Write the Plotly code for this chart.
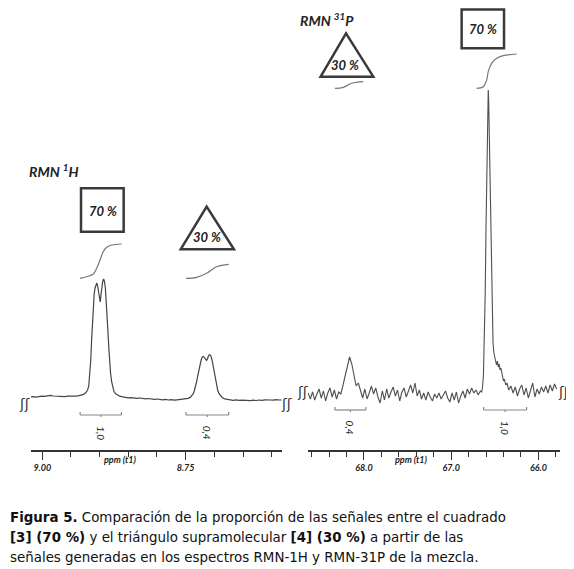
import plotly.graph_objects as go

# ---------- RMN 1H (ppm, intensidad relativa a la linea base) ----------
h1_ppm = [9.021, 9.016, 9.011, 9.006, 9.001, 8.996, 8.991, 8.986, 8.981, 8.976,
          8.971, 8.966, 8.961, 8.956, 8.951, 8.946, 8.941, 8.936, 8.932, 8.928,
          8.924, 8.921, 8.919, 8.917, 8.9155, 8.914, 8.9125, 8.911, 8.9095, 8.908,
          8.9065, 8.905, 8.9035, 8.902, 8.9005, 8.899, 8.8975, 8.896, 8.8945, 8.893,
          8.8915, 8.890, 8.8885, 8.887, 8.8855, 8.884, 8.8825, 8.881, 8.879, 8.877,
          8.875, 8.872, 8.869, 8.865, 8.860, 8.855, 8.850, 8.845, 8.840, 8.835,
          8.830, 8.825, 8.820, 8.815, 8.810, 8.805, 8.800, 8.795, 8.790, 8.785,
          8.780, 8.775, 8.770, 8.765, 8.760, 8.755, 8.750, 8.746, 8.742, 8.739,
          8.737, 8.735, 8.733, 8.731, 8.729, 8.727, 8.725, 8.723, 8.721, 8.719,
          8.717, 8.715, 8.7135, 8.712, 8.710, 8.708, 8.706, 8.704, 8.702, 8.700,
          8.698, 8.696, 8.694, 8.692, 8.689, 8.686, 8.682, 8.677, 8.672, 8.667,
          8.662, 8.657, 8.652, 8.647, 8.642, 8.637, 8.632, 8.627, 8.622, 8.617,
          8.612, 8.607, 8.602, 8.597, 8.592, 8.587, 8.583]
h1_int = [3.0, 3.4, 2.9, 3.5, 3.8, 3.6, 4.3, 4.6, 4.0, 3.7,
          3.2, 3.6, 3.3, 3.8, 3.6, 4.1, 3.9, 4.4, 4.8, 5.6,
          7.5, 10, 14, 25, 40, 60, 80, 97, 106, 112,
          116, 117, 114, 108, 100, 98, 106, 114, 119, 121,
          118, 112, 100, 84, 68, 52, 38, 27, 18, 12,
          8.5, 6.2, 4.8, 3.8, 3.1, 2.6, 2.2, 2.4, 1.9, 1.7,
          2.0, 1.4, 1.2, 1.5, 0.9, 0.6, 1.0, 0.4, 0.2, 0.6,
          0.0, 0.3, -0.2, 0.2, 0.5, 0.4, 1.0, 1.6, 2.6, 4.2,
          6, 9, 13, 18, 24, 30, 35, 40, 43, 43.5,
          42, 40, 39.5, 41, 44.5, 45.5, 44, 40, 34, 27,
          20, 14, 9.5, 6.5, 4, 2.3, 1.2, 0.5, 0.2, -0.3,
          0.1, -0.4, -0.1, -0.5, -0.2, -0.6, -0.2, -0.5, 0.0, -0.4,
          0.1, -0.3, 0.0, -0.2, 0.3, 0.0, 0.2]

# curvas de integracion 1H
h1_integ_a_ppm = [8.9343, 8.9226, 8.9111, 8.9052, 8.8994, 8.8937, 8.8877, 8.8790, 8.8616]
h1_integ_a_val = [121.7, 123.3, 126.0, 131.7, 140.0, 148.3, 152.7, 155.0, 156.0]
h1_integ_b_ppm = [8.7495, 8.7308, 8.7134, 8.6960, 8.6750]
h1_integ_b_val = [121.7, 122.7, 126.7, 133.3, 135.7]

# regiones integradas 1H
h1_reg = [(8.934, 8.862), (8.7495, 8.675)]
h1_reg_txt = ["1,0", "0,4"]

# ---------- RMN 31P ----------
p31_ppm = [68.640, 68.615, 68.590, 68.565, 68.540, 68.515, 68.490, 68.465, 68.440, 68.415,
           68.390, 68.365, 68.340, 68.315, 68.290, 68.265, 68.240, 68.215, 68.190, 68.165,
           68.140, 68.115, 68.090, 68.065, 68.040, 68.015, 67.990, 67.965, 67.940, 67.915,
           67.890, 67.865, 67.840, 67.815, 67.790, 67.765, 67.740, 67.715, 67.690, 67.665,
           67.640, 67.615, 67.590, 67.565, 67.540, 67.515, 67.490, 67.465, 67.440, 67.415,
           67.390, 67.365, 67.340, 67.315, 67.290, 67.265, 67.240, 67.215, 67.190, 67.165,
           67.140, 67.115, 67.090, 67.065, 67.040, 67.015, 66.990, 66.965, 66.940, 66.915,
           66.890, 66.865, 66.840, 66.815, 66.790, 66.765, 66.740, 66.715, 66.690, 66.665,
           66.650, 66.640, 66.630, 66.620, 66.610, 66.600, 66.590, 66.580, 66.575, 66.570,
           66.560, 66.550, 66.540, 66.530, 66.520, 66.510, 66.500, 66.490, 66.480, 66.470,
           66.460, 66.450, 66.440, 66.430, 66.420, 66.410, 66.400, 66.390, 66.375, 66.360,
           66.340, 66.315, 66.290, 66.265, 66.240, 66.215, 66.190, 66.165, 66.140, 66.115,
           66.090, 66.065, 66.040, 66.015, 65.990, 65.965, 65.940, 65.915, 65.890, 65.865,
           65.840, 65.815, 65.790]
p31_int = [2, -4, 3, -5, 1, 6, -3, 4, -6, 2,
           7, -2, 5, -4, 3, 1, 10, 20, 31, 38,
           31, 20, 9, 12, 5, -3, 6, -4, 2, 9,
           1, 7, -2, -8, 4, -5, 6, -3, 3, 8,
           -1, 5, -6, 3, 7, -2, 4, 10, 2, 12,
           -1, 5, -4, 2, -5, 3, -2, -6, 1, -3,
           2, -4, 0, 4, -3, -7, 2, -5, 3, -8,
           -1, 4, -3, 6, 1, 7, 2, 5, 0, 4,
           3, 8, 20, 50, 100, 170, 240, 290, 305, 295,
           245, 185, 120, 75, 52, 42, 37, 33, 30, 34,
           28, 31, 25, 27, 21, 18, 14, 16, 10, 12,
           5, 9, 2, 8, -1, 6, 10, 0, 7, -3,
           5, 12, -2, 6, 1, 8, 3, 9, 2, 10,
           4, 11, 6]

p31_integ_a_ppm = [68.333, 68.237, 68.141, 68.008]
p31_integ_a_val = [306.7, 307.7, 311.7, 313.3]
p31_integ_b_ppm = [66.708, 66.632, 66.593, 66.575, 66.536, 66.478, 66.403, 66.249]
p31_integ_b_val = [306.7, 308.3, 315.0, 323.3, 331.7, 336.7, 339.3, 341.0]

p31_reg = [(68.333, 67.978), (66.628, 66.135)]
p31_reg_txt = ["0,4", "1,0"]

FONT = "Lato"
GRIS = "#444444"
W, H = 574, 569
OFF = 8  # margen del body de la pagina

fig = go.Figure()

fig.add_trace(go.Scatter(x=h1_ppm, y=h1_int, mode="lines", line=dict(color=GRIS, width=1.2),
                         xaxis="x", yaxis="y", hoverinfo="skip"))
fig.add_trace(go.Scatter(x=p31_ppm, y=p31_int, mode="lines", line=dict(color="#505050", width=1.1),
                         xaxis="x2", yaxis="y2", hoverinfo="skip"))

for xs, ys, xa, ya in [(h1_integ_a_ppm, h1_integ_a_val, "x", "y"),
                       (h1_integ_b_ppm, h1_integ_b_val, "x", "y"),
                       (p31_integ_a_ppm, p31_integ_a_val, "x2", "y2"),
                       (p31_integ_b_ppm, p31_integ_b_val, "x2", "y2")]:
    fig.add_trace(go.Scatter(x=xs, y=ys, mode="lines", line=dict(color="#777777", width=1.2, shape="spline"),
                             xaxis=xa, yaxis=ya, hoverinfo="skip"))

shapes = []
annots = []

# corchetes de integracion y sus valores (texto girado)
for regs, txts, xr, yr in [(h1_reg, h1_reg_txt, "x", "y"), (p31_reg, p31_reg_txt, "x2", "y2")]:
    for (a, b), t in zip(regs, txts):
        c = (a + b) / 2
        ln = dict(color="#888888", width=1.2)
        shapes.append(dict(type="line", xref=xr, yref=yr, x0=a, x1=b, y0=-15, y1=-15, line=ln))
        shapes.append(dict(type="line", xref=xr, yref=yr, x0=a, x1=a, y0=-15, y1=-12, line=ln))
        shapes.append(dict(type="line", xref=xr, yref=yr, x0=b, x1=b, y0=-15, y1=-12, line=ln))
        shapes.append(dict(type="line", xref=xr, yref=yr, x0=c, x1=c, y0=-15, y1=-17, line=ln))
        annots.append(dict(xref=xr, yref=yr, x=c, y=-33, text=t, showarrow=False, textangle=90,
                           font=dict(family=FONT, size=10, color="#222", style="italic")))

# cuadrado y triangulo
borde = dict(color="#3a3a3a", width=2.5)
shapes.append(dict(type="rect", xref="x", yref="y", x0=8.9325, x1=8.8581, y0=168.3, y1=211.7, line=borde))
shapes.append(dict(type="path", xref="x", yref="y", path="M 8.7587,150.7 L 8.7134,193.3 L 8.6658,150.7 Z", line=borde))
shapes.append(dict(type="rect", xref="x2", yref="y2", x0=66.880, x1=66.394, y0=346.7, y1=385.5, line=borde))
shapes.append(dict(type="path", xref="x2", yref="y2", path="M 68.497,318.3 L 68.206,361.7 L 67.893,318.3 Z", line=borde))

fb = dict(family=FONT, size=13, color="#222", weight="bold", style="italic")
ftit = dict(family=FONT, size=14, color="#222", weight="bold", style="italic")
annots += [
    dict(xref="x", yref="y", x=8.8937, y=189.3, text="70 %", showarrow=False, font=fb),
    dict(xref="x", yref="y", x=8.7134, y=162.7, text="30 %", showarrow=False, font=fb),
    dict(xref="x2", yref="y2", x=66.637, y=366, text="70 %", showarrow=False, font=fb),
    dict(xref="x2", yref="y2", x=68.218, y=330, text="30 %", showarrow=False, font=fb),
    dict(xref="x", yref="y", x=8.9796, y=230, text="RMN <sup>1</sup>H", showarrow=False, font=ftit),
    dict(xref="x2", yref="y2", x=68.424, y=387, yanchor="top", text="RMN <sup>31</sup>P",
         showarrow=False, font=ftit),
]

# marcas de corte
fcorte = dict(family="DejaVu Sans", size=14, color="#333")
for xr, yr, yv, xl, xd in [("x", "y", -4, -0.024, 1.016), ("x2", "y2", 3, -0.022, 1.012)]:
    annots.append(dict(xref=xr + " domain", yref=yr, x=xl, y=yv, text="ʃʃ", showarrow=False,
                       xanchor="center", font=fcorte))
    annots.append(dict(xref=xr + " domain", yref=yr, x=xd, y=yv, text="ʃʃ", showarrow=False,
                       xanchor="center", font=fcorte))

# etiqueta ppm (t1)
ftick = dict(family=FONT, size=9, color="#222", weight="bold", style="italic")
yppm = 1 - (467 - OFF) / H
annots.append(dict(xref="x", yref="paper", x=8.863, y=yppm, text="ppm (t1)", showarrow=False, font=ftick))
annots.append(dict(xref="x2", yref="paper", x=67.453, y=yppm, text="ppm (t1)", showarrow=False, font=ftick))

# pie de figura
pie = ["<b>Figura 5.</b> Comparación de la proporción de las señales entre el cuadrado",
       "<b>[3] (70 %)</b> y el triángulo supramolecular <b>[4] (30 %)</b> a partir de las",
       "señales generadas en los espectros RMN-1H y RMN-31P de la mezcla."]
for i, linea in enumerate(pie):
    annots.append(dict(xref="paper", yref="paper", x=0, y=1 - (517 + 20 * i - OFF) / H, text=linea,
                       showarrow=False, xanchor="left", yanchor="middle",
                       font=dict(family="DejaVu Sans", size=13.4, color="#111")))

eje = dict(showline=True, linecolor="#333", linewidth=1.5, ticks="outside", ticklen=8, tickwidth=1.2,
           tickcolor="#333", showgrid=False, zeroline=False, tickfont=ftick)
ydom = [1 - (450 - OFF) / H, 1]
fig.update_layout(
    width=W, height=H,
    margin=dict(l=0, r=0, t=0, b=0),
    paper_bgcolor="white", plot_bgcolor="white",
    showlegend=False,
    xaxis=dict(domain=[(31 - OFF) / W, (282 - OFF) / W], range=[9.0197, 8.582], anchor="y",
               tickvals=[9.00, 8.75], ticktext=["9.00", "8.75"],
               minor=dict(tickvals=[8.95, 8.90, 8.85, 8.80, 8.70, 8.65, 8.60], ticks="outside",
                          ticklen=5, tickcolor="#333", tickwidth=1.2), **eje),
    xaxis2=dict(domain=[(308 - OFF) / W, (560 - OFF) / W], range=[68.642, 65.752], anchor="y2",
                tickvals=[68.0, 67.0, 66.0], ticktext=["68.0", "67.0", "66.0"],
                minor=dict(tickvals=[68.6, 68.4, 68.2, 67.8, 67.6, 67.4, 67.2, 66.8, 66.6, 66.4, 66.2, 65.8],
                           ticks="outside", ticklen=5, tickcolor="#333", tickwidth=1.2), **eje),
    yaxis=dict(domain=ydom, range=[-50, 400 - OFF], visible=False),
    yaxis2=dict(domain=ydom, range=[-55, 395 - OFF], visible=False, anchor="x2"),
    shapes=shapes,
    annotations=annots,
)

fig.write_html("out.html")
